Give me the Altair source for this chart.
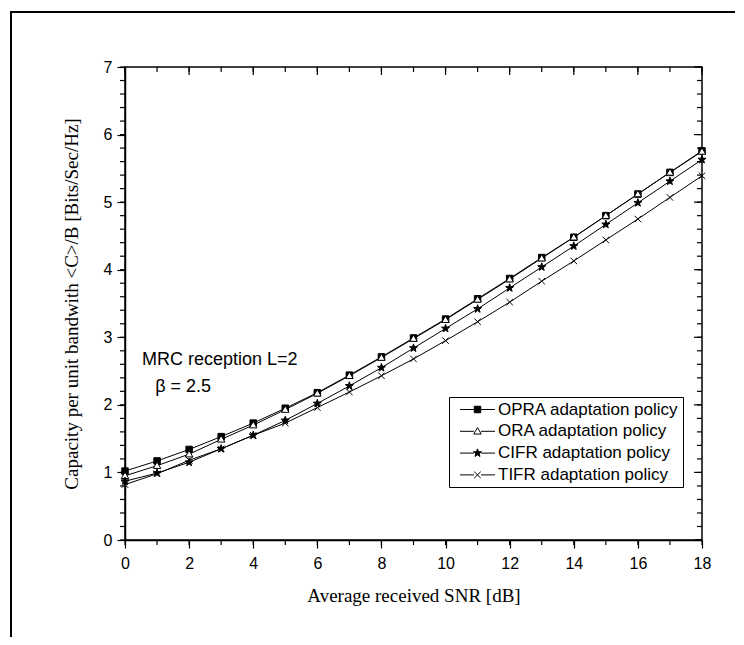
import altair as alt
import pandas as pd

# ---------------- data ----------------
snr = list(range(19))
opra = [1.02, 1.17, 1.34, 1.53, 1.73, 1.95, 2.18, 2.44, 2.71, 2.99, 3.27, 3.57, 3.87, 4.18, 4.48, 4.80, 5.12, 5.44, 5.76]
ora = [0.95, 1.10, 1.27, 1.49, 1.70, 1.93, 2.17, 2.43, 2.70, 2.98, 3.26, 3.56, 3.86, 4.17, 4.48, 4.80, 5.12, 5.44, 5.75]
cifr = [0.87, 0.99, 1.15, 1.35, 1.55, 1.77, 2.02, 2.28, 2.55, 2.84, 3.13, 3.42, 3.73, 4.04, 4.35, 4.67, 4.99, 5.31, 5.63]
tifr = [0.82, 0.98, 1.18, 1.35, 1.55, 1.73, 1.96, 2.19, 2.43, 2.68, 2.95, 3.23, 3.52, 3.83, 4.13, 4.44, 4.75, 5.07, 5.39]
series_names = ["OPRA adaptation policy", "ORA adaptation policy",
                "CIFR adaptation policy", "TIFR adaptation policy"]
x_major = [0, 2, 4, 6, 8, 10, 12, 14, 16, 18]
x_minor = list(range(19))
y_major = [0, 1, 2, 3, 4, 5, 6, 7]
y_minor = [round(i * 0.2, 1) for i in range(36)]
annot_text = ["MRC reception L=2", "\u03b2 = 2.5"]
annot_x = [0.53, 0.94]
annot_y = [2.67, 2.26]

rows = []
for name, vals in zip(series_names, [opra, ora, cifr, tifr]):
    for s, v in zip(snr, vals):
        rows.append({"snr": s, "value": v, "series": name})
df = pd.DataFrame(rows)
ann = pd.DataFrame({"x": annot_x, "y": annot_y, "text": annot_text})
one = pd.DataFrame({"k": [0]})
xmaj_df = pd.DataFrame({"v": x_major})
xmin_df = pd.DataFrame({"v": x_minor})
ymaj_df = pd.DataFrame({"v": y_major})
ymin_df = pd.DataFrame({"v": y_minor})

# ---------------- styles ----------------
SANS = "Liberation Sans"
SERIF = "Liberation Serif"
W, H = 577, 473
MAJ, MIN = 8, 5

STAR = "M0,-1.3L0.306,-0.42L1.236,-0.402L0.495,0.161L0.764,1.052L0,0.52L-0.764,1.052L-0.495,0.161L-1.236,-0.402L-0.306,-0.42Z"
SQUARE = "M-1,-1H1V1H-1Z"
TRI = "M0,-1.15L1.15,0.85H-1.15Z"
CROSS = "M-1,-1L1,1M-1,1L1,-1"
point_shapes = [SQUARE, TRI, STAR, CROSS]
LINE = "M-5.4,0H-1.1M1.1,0H5.4"
legend_shapes = [LINE + SQUARE, LINE + TRI, LINE + STAR, LINE + CROSS]
fills = ["black", "white", "black", "black"]
strokes = ["black", "black", "black", "black"]

xs = alt.Scale(domain=[0, 18], nice=False, zero=False)
ys = alt.Scale(domain=[0, 7], nice=False, zero=False)

lines = alt.Chart(df).mark_line(color="black", strokeWidth=1).encode(
    x=alt.X("snr:Q", scale=xs, axis=alt.Axis(
        orient="bottom", values=x_major, format="d", tickSize=MAJ, tickWidth=1.2, tickColor="black",
        labelFont=SANS, labelFontSize=16, labelColor="black", labelPadding=7,
        title="Average received SNR [dB]", titleFont=SERIF, titleFontSize=19,
        titleFontWeight="normal", titleColor="black", titlePadding=15,
        domainColor="black", domainWidth=1.5, grid=False, labelFlush=False)),
    y=alt.Y("value:Q", scale=ys, axis=alt.Axis(
        orient="left", values=y_major, format="d", tickSize=MAJ, tickWidth=1.2, tickColor="black",
        labelFont=SANS, labelFontSize=16, labelColor="black", labelPadding=5,
        title="Capacity per unit bandwith <C>/B [Bits/Sec/Hz]", titleFont=SERIF,
        titleFontSize=19, titleFontWeight="normal", titleColor="black", titlePadding=22,
        domainColor="black", domainWidth=1.5, grid=False, labelFlush=False)),
    detail="series:N",
)

points = alt.Chart(df).mark_point(filled=True, size=42, stroke="black", strokeWidth=1, opacity=1).encode(
    x=alt.X("snr:Q", scale=xs),
    y=alt.Y("value:Q", scale=ys),
    shape=alt.Shape("series:N", scale=alt.Scale(domain=series_names, range=point_shapes), legend=None),
    fill=alt.Fill("series:N", scale=alt.Scale(domain=series_names, range=fills), legend=None),
)

leg = dict(title=None, orient="none", legendX=324, legendY=330, fillColor="white",
           strokeColor="black", padding=4, labelFont=SANS, labelFontSize=17,
           labelColor="black", symbolSize=42, symbolStrokeColor="black", symbolStrokeWidth=1,
           symbolOffset=16, labelOffset=12, rowPadding=3.8, labelLimit=400, symbolOpacity=1)

legend_layer = alt.Chart(df).transform_filter("false").mark_point(
    filled=True, size=42, strokeWidth=1, opacity=1).encode(
    x=alt.X("snr:Q", scale=xs),
    y=alt.Y("value:Q", scale=ys),
    shape=alt.Shape("series:N", scale=alt.Scale(domain=series_names, range=legend_shapes), legend=alt.Legend(**leg)),
    fill=alt.Fill("series:N", scale=alt.Scale(domain=series_names, range=fills), legend=alt.Legend(**leg)),
    stroke=alt.Stroke("series:N", scale=alt.Scale(domain=series_names, range=strokes), legend=alt.Legend(**leg)),
)

texts = alt.Chart(ann).mark_text(font=SANS, fontSize=18, align="left", baseline="middle", color="black").encode(
    x=alt.X("x:Q", scale=xs),
    y=alt.Y("y:Q", scale=ys),
    text="text:N",
)

# minor and mirrored (inward) ticks
tick_style = dict(color="black", strokeWidth=1.2)
bottom_minor = alt.Chart(xmin_df).mark_rule(**tick_style).encode(
    x=alt.X("v:Q", scale=xs), y=alt.value(H), y2=alt.value(H + MIN))
top_major = alt.Chart(xmaj_df).mark_rule(**tick_style).encode(
    x=alt.X("v:Q", scale=xs), y=alt.value(0), y2=alt.value(MAJ))
top_minor = alt.Chart(xmin_df).mark_rule(**tick_style).encode(
    x=alt.X("v:Q", scale=xs), y=alt.value(0), y2=alt.value(MIN))
left_minor = alt.Chart(ymin_df).mark_rule(**tick_style).encode(
    y=alt.Y("v:Q", scale=ys), x=alt.value(-MIN), x2=alt.value(0))
right_major = alt.Chart(ymaj_df).mark_rule(**tick_style).encode(
    y=alt.Y("v:Q", scale=ys), x=alt.value(W - MAJ), x2=alt.value(W))
right_minor = alt.Chart(ymin_df).mark_rule(**tick_style).encode(
    y=alt.Y("v:Q", scale=ys), x=alt.value(W - MIN), x2=alt.value(W))

frame_top = alt.Chart(one).mark_rule(color="black", strokeWidth=2).encode(
    x=alt.value(-115), x2=alt.value(W + 33), y=alt.value(-55))
frame_left = alt.Chart(one).mark_rule(color="black", strokeWidth=2).encode(
    x=alt.value(-114), y=alt.value(-56), y2=alt.value(H + 97))

chart = alt.layer(
    lines, bottom_minor, top_major, top_minor, left_minor, right_major, right_minor,
    points, legend_layer, texts, frame_top, frame_left
).resolve_scale(
    shape="independent", fill="independent", stroke="independent"
).resolve_legend(
    shape="independent", fill="independent", stroke="independent"
).properties(
    width=W, height=H,
    padding={"left": 1, "top": 2, "right": 0, "bottom": 0},
).configure_view(stroke="black", strokeWidth=1.5).configure_axis(
    grid=False
).configure_legend(strokeWidth=1)

chart.save("out.html", embed_options={"renderer": "svg", "actions": False})
